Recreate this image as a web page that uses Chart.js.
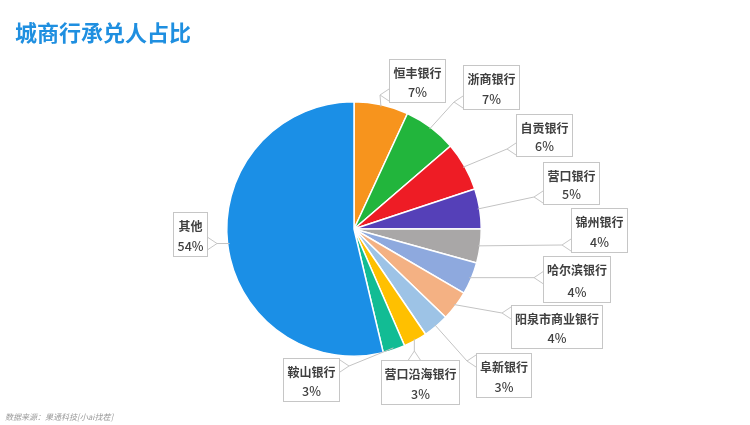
<!DOCTYPE html>
<html>
<head>
<meta charset="utf-8">
<script src="https://cdn.jsdelivr.net/npm/chart.js@4.4.1/dist/chart.umd.min.js"></script>
<style>
  html, body { margin:0; padding:0; background:#fff; }
  #wrap { position:relative; width:750px; height:425px; overflow:hidden; }
  #title { position:absolute; left:15px; top:15px; font:bold 22px "Noto Sans CJK SC", sans-serif; color:#1f8fe0; }
  #source { position:absolute; left:5px; top:411px; font:italic 8px "Noto Sans CJK SC", sans-serif; color:#9a9a9a; }
</style>
</head>
<body>
<div id="wrap">
  <canvas id="myChart" width="750" height="425"></canvas>
  <div id="title">城商行承兑人占比</div>
  <div id="source">数据来源：果通科技[小ai找茬]</div>
</div>
<script>
// slices, clockwise from 12 o'clock
const categories = ['恒丰银行', '浙商银行', '自贡银行', '营口银行', '锦州银行', '哈尔滨银行', '阳泉市商业银行', '阜新银行', '营口沿海银行', '鞍山银行', '其他'];
const shares = [6.9, 6.8, 6.2, 5.1, 4.3, 4.1, 3.8, 3.3, 3.0, 2.8, 53.7];
const percentLabels = ['7%', '7%', '6%', '5%', '4%', '4%', '4%', '3%', '3%', '3%', '54%'];
const sliceColors = ['#f7941d', '#22b53c', '#ee1c25', '#5540b8', '#a9a7a7', '#8ea9de', '#f4b183', '#9dc3e6', '#ffc000', '#12bc94', '#1b8fe6'];

// callout boxes [left, top, width, height] - layout only
const boxes = [
  [389, 59, 57, 44], [463, 65, 57, 45], [516, 114, 57, 43], [543, 162, 57, 43],
  [571, 208, 57, 45], [543, 256, 68, 47], [511, 305, 92, 44], [476, 353, 56, 45],
  [381, 360, 79, 45], [283, 358, 57, 44], [173, 212, 35, 45]
];

const calloutPlugin = {
  id: 'callouts',
  afterDatasetsDraw(chart) {
    const ctx = chart.ctx;
    const meta = chart.getDatasetMeta(0);
    meta.data.forEach(function(arc, i) {
      const p = arc.getProps(['x', 'y', 'startAngle', 'endAngle', 'outerRadius'], true);
      const mid = (p.startAngle + p.endAngle) / 2;
      const ax = p.x + Math.cos(mid) * (p.outerRadius - 2);
      const ay = p.y + Math.sin(mid) * (p.outerRadius - 2);
      const [bx, by, bw, bh] = boxes[i];

      // pick side of the box facing the anchor
      const cx = bx + bw / 2;
      let base1, base2, tip;
      const tab = 6, reach = 9;
      if (ax < bx) {
        const ty = Math.min(Math.max(ay, by + tab + 2), by + bh - tab - 2);
        base1 = [bx, ty - tab]; base2 = [bx, ty + tab]; tip = [bx - reach, ty];
      } else if (ax > bx + bw) {
        const ty = Math.min(Math.max(ay, by + tab + 2), by + bh - tab - 2);
        base1 = [bx + bw, ty - tab]; base2 = [bx + bw, ty + tab]; tip = [bx + bw + reach, ty];
      } else if (ay > by + bh) {
        const tx = Math.min(Math.max(ax, bx + tab + 2), bx + bw - tab - 2);
        base1 = [tx - tab, by + bh]; base2 = [tx + tab, by + bh]; tip = [tx, by + bh + reach];
      } else {
        const tx = Math.min(Math.max(ax, bx + tab + 2), bx + bw - tab - 2);
        base1 = [tx - tab, by]; base2 = [tx + tab, by]; tip = [tx, by - reach];
      }

      ctx.save();
      // leader line
      ctx.strokeStyle = '#c3c3c3';
      ctx.lineWidth = 1;
      ctx.beginPath();
      ctx.moveTo(tip[0], tip[1]);
      ctx.lineTo(ax, ay);
      ctx.stroke();

      // box + tab
      ctx.fillStyle = '#ffffff';
      ctx.strokeStyle = '#c6c6c6';
      ctx.fillRect(bx, by, bw, bh);
      ctx.strokeRect(bx + 0.5, by + 0.5, bw - 1, bh - 1);
      ctx.beginPath();
      ctx.moveTo(base1[0], base1[1]);
      ctx.lineTo(tip[0], tip[1]);
      ctx.lineTo(base2[0], base2[1]);
      ctx.fill();
      ctx.stroke();

      // text
      ctx.fillStyle = '#404040';
      ctx.textAlign = 'center';
      ctx.textBaseline = 'middle';
      ctx.font = 'bold 12px "Noto Sans CJK SC", sans-serif';
      ctx.fillText(categories[i], cx, by + 14);
      ctx.font = '500 12.5px "Noto Sans CJK SC", sans-serif';
      ctx.fillText(percentLabels[i], cx, by + bh - 11);
      ctx.restore();
    });
  }
};

var ctx = document.getElementById('myChart').getContext('2d');
var myChart = new Chart(ctx, {
  type: 'pie',
  data: {
    labels: categories,
    datasets: [{
      data: shares,
      backgroundColor: sliceColors,
      borderColor: '#ffffff',
      borderWidth: 1.5
    }]
  },
  options: {
    responsive: false,
    animation: false,
    layout: { padding: { top: 101, bottom: 68, left: 226, right: 268 } },
    plugins: {
      legend: { display: false },
      tooltip: { enabled: false }
    }
  },
  plugins: [calloutPlugin]
});
</script>
</body>
</html>
